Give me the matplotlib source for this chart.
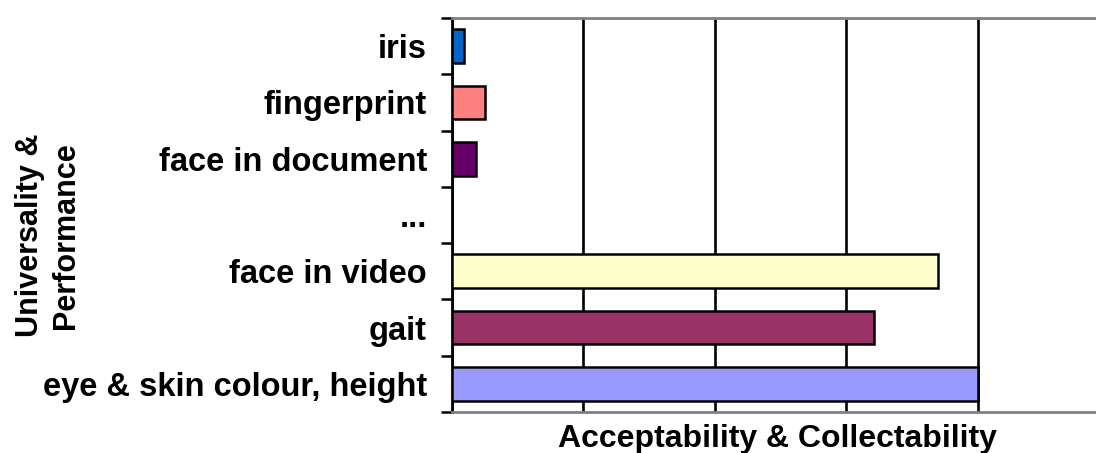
import matplotlib.pyplot as plt
from matplotlib.ticker import MultipleLocator, FixedLocator

plt.rcParams['font.family'] = ['Liberation Sans', 'DejaVu Sans']

categories = ['iris', 'fingerprint', 'face in document', '...',
              'face in video', 'gait', 'eye & skin colour, height']
values = [0.09, 0.25, 0.18, 0, 3.70, 3.21, 4.0]
colors = ['#0066CC', '#FF8080', '#660066', '#FFFFFF',
          '#FFFFCC', '#993366', '#9999FF']

fig = plt.figure(figsize=(10.96, 4.53), dpi=100)
ax = fig.add_axes([452 / 1096, 1 - 412 / 453, 1 - 452 / 1096, (412 - 18) / 453])

pos = list(range(len(categories)))
for p, v, c in zip(pos, values, colors):
    if v > 0:
        ax.barh(p, v, height=0.6, color=c, edgecolor='black', linewidth=1.8, zorder=3)

ax.set_ylim(len(categories) - 0.5, -0.5)
ax.set_xlim(0, 4.9)

# y axis: labels at centres, ticks at boundaries
ax.set_yticks(pos)
ax.set_yticklabels(categories, fontsize=23.5, fontweight='bold')
ax.tick_params(axis='y', which='major', length=0, pad=18)
ax.yaxis.set_minor_locator(FixedLocator([p - 0.5 for p in range(len(categories) + 1)]))
ax.tick_params(axis='y', which='minor', length=8, width=1.8, color='black', direction='out')

# x axis: gridlines only
ax.xaxis.set_major_locator(MultipleLocator(1))
ax.tick_params(axis='x', which='both', length=0, labelbottom=False)
ax.grid(axis='x', color='black', linewidth=1.9, zorder=0)
ax.set_axisbelow(True)

ax.spines['left'].set_color('black')
ax.spines['left'].set_linewidth(2)
for s in ['top', 'bottom']:
    ax.spines[s].set_color('#808080')
    ax.spines[s].set_linewidth(2)
ax.spines['right'].set_visible(False)

ax.set_xlabel('Acceptability & Collectability', fontsize=23, fontweight='bold', va='center')
ax.xaxis.set_label_coords((777 - 452) / (1096 - 452), -0.068)

fig.text(0.044, 0.48, 'Universality &\nPerformance', rotation=90, fontsize=22,
         fontweight='bold', ha='center', va='center', linespacing=1.25)

fig.savefig('out.png', dpi=100)
